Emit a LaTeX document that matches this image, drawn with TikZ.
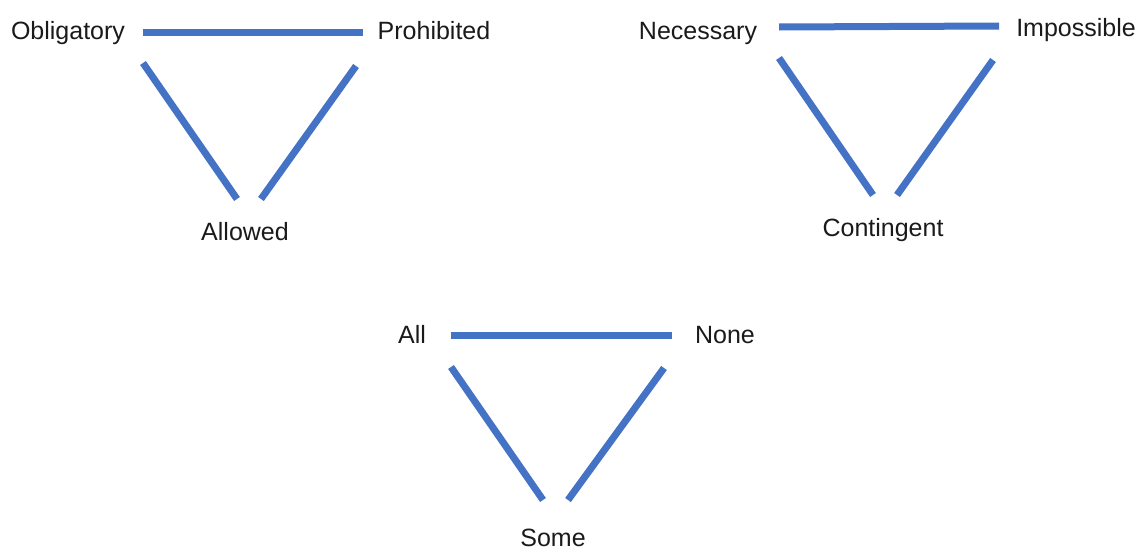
\documentclass[tikz,border=0pt]{standalone}
\usepackage{fontspec}
\setmainfont{Liberation Sans}
\definecolor{edgeblue}{HTML}{4472C4}
\definecolor{labelgray}{HTML}{1A1A1A}
\begin{document}
\begin{tikzpicture}[x=1pt,y=-1pt,
  lbl/.style={font=\fontsize{25}{29}\selectfont, text=labelgray, inner sep=0pt, anchor=base},
  edge/.style={draw=edgeblue, line width=7pt}]
\useasboundingbox (0,0) rectangle (1139,549);
% triangle 1
\node[lbl] (obl) at (68,39) {Obligatory};
\node[lbl] (pro) at (434,39) {Prohibited};
\node[lbl] (all) at (245,240) {Allowed};
\coordinate (a1) at (143,32); \coordinate (a2) at (363,32);
\coordinate (a3) at (143,63); \coordinate (a4) at (237,199);
\coordinate (a5) at (356,66); \coordinate (a6) at (261,199);
\draw[edge] (a1) -- (a2);
\draw[edge] (a3) -- (a4);
\draw[edge] (a5) -- (a6);
% triangle 2
\node[lbl] (nec) at (698,39) {Necessary};
\node[lbl] (imp) at (1076,36) {Impossible};
\node[lbl] (con) at (883,236) {Contingent};
\coordinate (b1) at (779,27); \coordinate (b2) at (999,26);
\coordinate (b3) at (779,58); \coordinate (b4) at (873,195);
\coordinate (b5) at (993,60); \coordinate (b6) at (897,195);
\draw[edge] (b1) -- (b2);
\draw[edge] (b3) -- (b4);
\draw[edge] (b5) -- (b6);
% triangle 3
\node[lbl] (alln) at (412,343) {All};
\node[lbl] (non) at (725,343) {None};
\node[lbl] (som) at (553,546) {Some};
\coordinate (c1) at (451,335); \coordinate (c2) at (672,335);
\coordinate (c3) at (451,367); \coordinate (c4) at (543,500);
\coordinate (c5) at (664,368); \coordinate (c6) at (568,500);
\draw[edge] (c1) -- (c2);
\draw[edge] (c3) -- (c4);
\draw[edge] (c5) -- (c6);
\end{tikzpicture}
\end{document}
